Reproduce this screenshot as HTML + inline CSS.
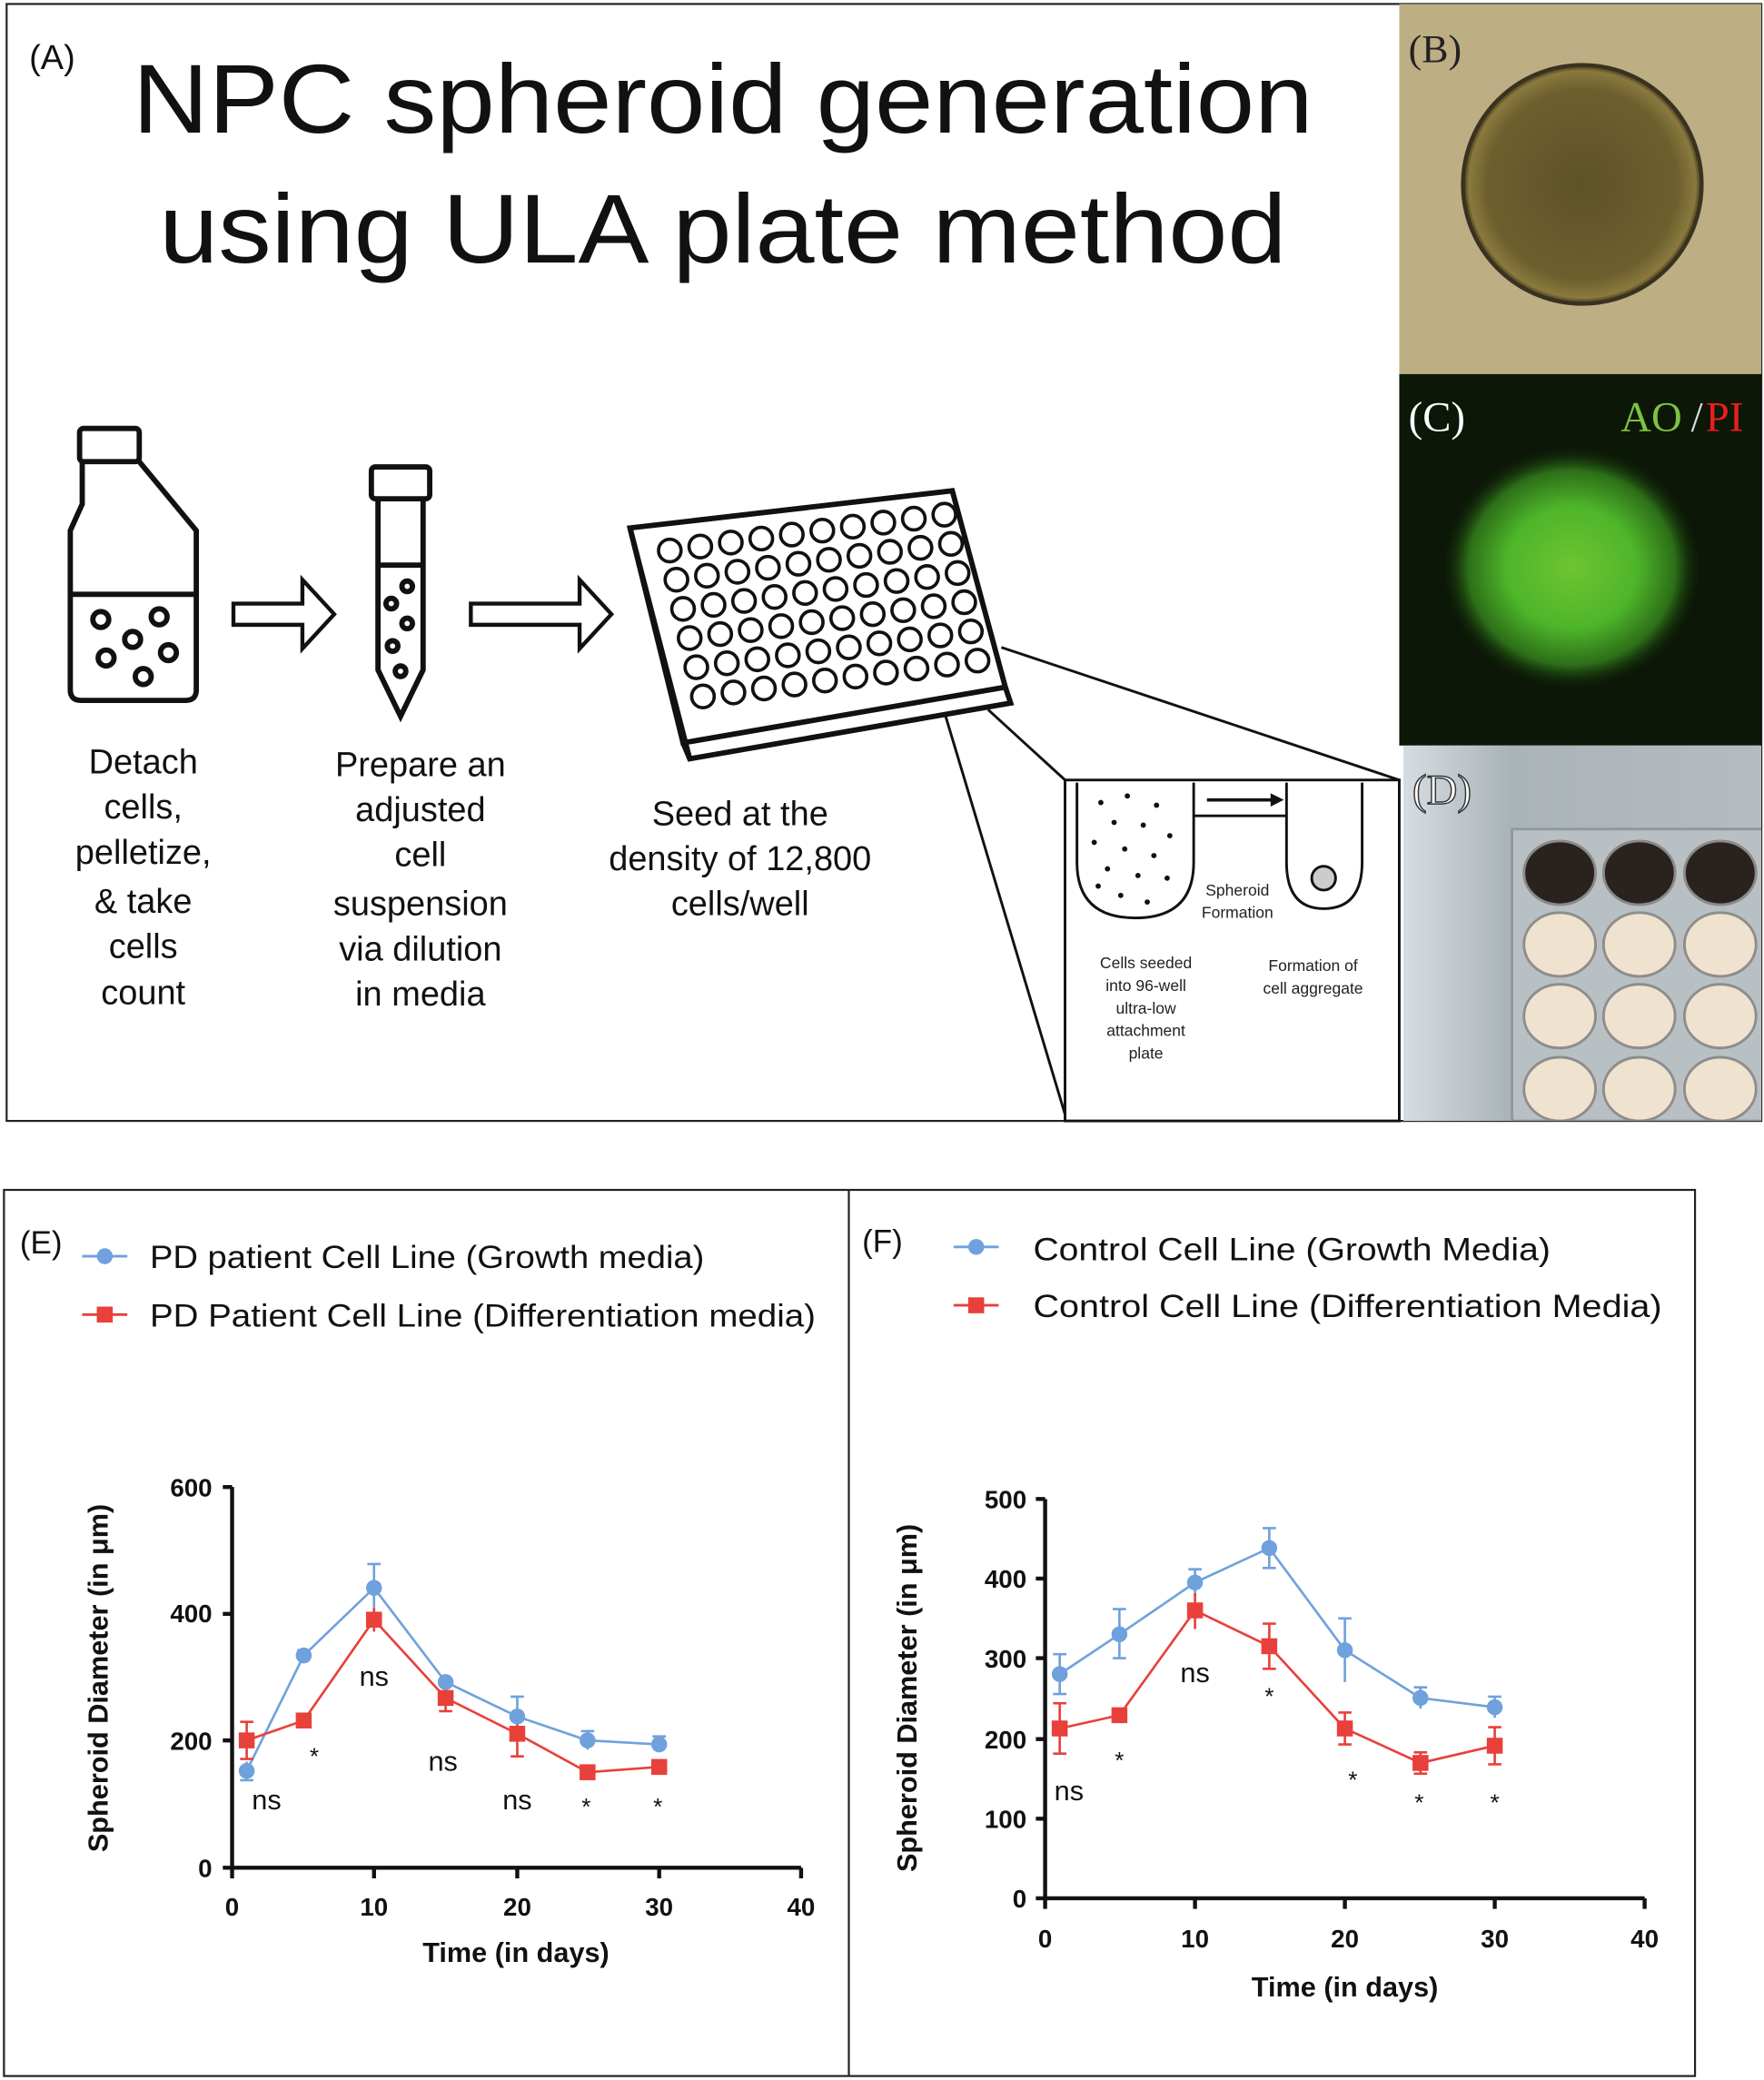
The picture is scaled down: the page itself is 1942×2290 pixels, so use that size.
<!DOCTYPE html>
<html><head><meta charset="utf-8"><style>html,body{margin:0;padding:0;background:#fff}svg{display:block}</style></head>
<body>
<svg width="1942" height="2290" viewBox="0 0 1330 1568" preserveAspectRatio="none" xmlns="http://www.w3.org/2000/svg" font-family="Liberation Sans, sans-serif">
<defs>
<radialGradient id="gB" cx="0.5" cy="0.5" r="0.5"><stop offset="0" stop-color="#5f5228"/><stop offset="0.8" stop-color="#6e5f2e"/><stop offset="0.95" stop-color="#8a7a3e"/><stop offset="1" stop-color="#3a3018"/></radialGradient>
<radialGradient id="gC" cx="0.5" cy="0.5" r="0.5"><stop offset="0" stop-color="#6fc430"/><stop offset="0.5" stop-color="#4eb52a"/><stop offset="0.8" stop-color="#2c6e18"/><stop offset="1" stop-color="#0f2208" stop-opacity="0"/></radialGradient>
<linearGradient id="gD" x1="0" y1="0" x2="1" y2="0"><stop offset="0" stop-color="#d6dde2"/><stop offset="0.3" stop-color="#aab3b8"/><stop offset="1" stop-color="#b5bcc0"/></linearGradient>
<clipPath id="cD"><rect x="1058" y="562" width="270" height="283"/></clipPath>
</defs>
<rect x="5" y="3" width="1323" height="842" fill="#fff" stroke="#222" stroke-width="1.5"/>
<text x="22" y="52" font-size="26" fill="#111">(A)</text>
<text x="100" y="100" font-size="74" fill="#111" textLength="890" lengthAdjust="spacingAndGlyphs">NPC spheroid generation</text>
<text x="120" y="198" font-size="74" fill="#111" textLength="850" lengthAdjust="spacingAndGlyphs">using ULA plate method</text>
<g fill="none" stroke="#111" stroke-width="4">
<rect x="60" y="323" width="45" height="25" rx="3"/>
<path d="M62 348 V380 L53 400 V520 Q53 528 61 528 H140 Q148 528 148 520 V400 L105 348"/>
<line x1="53" y1="448" x2="148" y2="448"/>
<circle cx="76" cy="467" r="6"/><circle cx="120" cy="465" r="6"/><circle cx="100" cy="482" r="6"/><circle cx="80" cy="496" r="6"/><circle cx="127" cy="492" r="6"/><circle cx="108" cy="510" r="6"/>
<path d="M176 455 H228 V437 L252 463 L228 489 V471 H176 Z" stroke-width="3"/>
<path d="M355 455 H437 V437 L461 463 L437 489 V471 H355 Z" stroke-width="3"/>
<rect x="280" y="352" width="44" height="24" rx="3"/>
<path d="M285 376 V505 L302 540 L319 505 V376"/>
<line x1="285" y1="426" x2="319" y2="426"/>
<circle cx="307" cy="442" r="4"/><circle cx="295" cy="455" r="4"/><circle cx="307" cy="470" r="4"/><circle cx="296" cy="487" r="4"/><circle cx="302" cy="506" r="4"/>
<path d="M475 398 L718 370 L758 518 L515 560 Z"/>
<path d="M515 560 L520 572 L762 530 L758 518"/>
<line x1="475" y1="398" x2="520" y2="572"/>
</g>
<g fill="none" stroke="#111" stroke-width="2.5">
<g id="wells">
<circle cx="505" cy="415" r="8.5"/><circle cx="528" cy="412" r="8.5"/><circle cx="551" cy="409" r="8.5"/><circle cx="574" cy="406" r="8.5"/><circle cx="597" cy="403" r="8.5"/><circle cx="620" cy="400" r="8.5"/><circle cx="643" cy="397" r="8.5"/><circle cx="666" cy="394" r="8.5"/><circle cx="689" cy="391" r="8.5"/><circle cx="712" cy="388" r="8.5"/>
</g>
<use href="#wells" transform="translate(5,22)"/><use href="#wells" transform="translate(10,44)"/><use href="#wells" transform="translate(15,66)"/><use href="#wells" transform="translate(20,88)"/><use href="#wells" transform="translate(25,110)"/>
</g>
<g stroke="#111" stroke-width="2" fill="none">
<line x1="755" y1="488" x2="1055" y2="588"/>
<line x1="713" y1="540" x2="803" y2="840"/>
<line x1="745" y1="535" x2="803" y2="588"/>
<rect x="803" y="588" width="252" height="257"/>
</g>
<g stroke="#111" stroke-width="2" fill="none">
<path d="M812 590 V650 Q812 692 856 692 Q900 692 900 650 V590"/>
<path d="M900 615 H970"/>
<path d="M970 590 V650 Q970 685 998 685 Q1027 685 1027 650 V590"/>
<circle cx="998" cy="662" r="9" fill="#ccc"/>
</g>
<path d="M910 603 H960" stroke="#111" stroke-width="2.5"/><path d="M958 598 L968 603 L958 608 Z" fill="#111"/>
<g fill="#111">
<circle cx="830" cy="605" r="2"/><circle cx="850" cy="600" r="2"/><circle cx="872" cy="607" r="2"/><circle cx="840" cy="620" r="2"/><circle cx="862" cy="622" r="2"/><circle cx="882" cy="630" r="2"/><circle cx="825" cy="635" r="2"/><circle cx="848" cy="640" r="2"/><circle cx="870" cy="645" r="2"/><circle cx="835" cy="655" r="2"/><circle cx="858" cy="660" r="2"/><circle cx="880" cy="662" r="2"/><circle cx="845" cy="675" r="2"/><circle cx="865" cy="680" r="2"/><circle cx="828" cy="668" r="2"/>
</g>
<g font-size="12" fill="#222" text-anchor="middle">
<text x="933" y="675">Spheroid</text><text x="933" y="692">Formation</text>
<text x="864" y="730">Cells seeded</text><text x="864" y="747">into 96-well</text><text x="864" y="764">ultra-low</text><text x="864" y="781">attachment</text><text x="864" y="798">plate</text>
<text x="990" y="732">Formation of</text><text x="990" y="749">cell aggregate</text>
</g>
<g font-size="26" fill="#111" text-anchor="middle">
<text x="108" y="583">Detach</text><text x="108" y="617">cells,</text><text x="108" y="651">pelletize,</text><text x="108" y="688">&amp; take</text><text x="108" y="722">cells</text><text x="108" y="757">count</text>
<text x="317" y="585">Prepare an</text><text x="317" y="619">adjusted</text><text x="317" y="653">cell</text><text x="317" y="690">suspension</text><text x="317" y="724">via dilution</text><text x="317" y="758">in media</text>
<text x="558" y="622">Seed at the</text><text x="558" y="656">density of 12,800</text><text x="558" y="690">cells/well</text>
</g>
<!-- B -->
<rect x="1055" y="3" width="273" height="279" fill="#bdae84"/>
<circle cx="1193" cy="139" r="90" fill="url(#gB)" stroke="#3a3220" stroke-width="3"/>
<text x="1062" y="47" font-size="30" font-family="Liberation Serif, serif" fill="#222">(B)</text>
<!-- C -->
<rect x="1055" y="282" width="273" height="280" fill="#0c1707"/>
<ellipse cx="1185" cy="428" rx="98" ry="92" fill="url(#gC)"/>
<text x="1062" y="325" font-size="32" font-family="Liberation Serif, serif" fill="#fff">(C)</text>
<text x="1222" y="325" font-size="32" font-family="Liberation Serif, serif" fill="#7ec242">AO</text><text x="1275" y="325" font-size="32" font-family="Liberation Serif, serif" fill="#ddd">/</text><text x="1286" y="325" font-size="32" font-family="Liberation Serif, serif" fill="#e8201c">PI</text>
<!-- D -->
<g clip-path="url(#cD)">
<rect x="1058" y="562" width="270" height="283" fill="url(#gD)"/>
<rect x="1140" y="625" width="190" height="220" fill="#b9c0c4" stroke="#8f989d" stroke-width="2"/>
<g fill="#2a221e" stroke="#8a8a8a" stroke-width="2">
<ellipse cx="1176" cy="658" rx="27" ry="24"/><ellipse cx="1236" cy="658" rx="27" ry="24"/><ellipse cx="1297" cy="658" rx="27" ry="24"/>
</g>
<g fill="#efe2cf" stroke="#8d8d8d" stroke-width="2">
<ellipse cx="1176" cy="712" rx="27" ry="24"/><ellipse cx="1236" cy="712" rx="27" ry="24"/><ellipse cx="1297" cy="712" rx="27" ry="24"/>
<ellipse cx="1176" cy="766" rx="27" ry="24"/><ellipse cx="1236" cy="766" rx="27" ry="24"/><ellipse cx="1297" cy="766" rx="27" ry="24"/>
<ellipse cx="1176" cy="821" rx="27" ry="24"/><ellipse cx="1236" cy="821" rx="27" ry="24"/><ellipse cx="1297" cy="821" rx="27" ry="24"/>
</g>
</g>
<text x="1065" y="606" font-size="32" font-family="Liberation Serif, serif" fill="#fff" stroke="#333" stroke-width="1">(D)</text>

<rect x="3" y="897" width="1275" height="668" fill="none" stroke="#222" stroke-width="1.5"/>
<line x1="640" y1="897" x2="640" y2="1565" stroke="#222" stroke-width="1.5"/>

<text x="15" y="945" font-size="24" fill="#111">(E)</text>
<line x1="62" y1="947" x2="96" y2="947" stroke="#6fa1dd" stroke-width="2"/><circle cx="79" cy="947" r="6" fill="#6fa1dd"/>
<text x="113" y="956" font-size="24" fill="#111" textLength="418" lengthAdjust="spacingAndGlyphs">PD patient Cell Line (Growth media)</text>
<line x1="62" y1="991" x2="96" y2="991" stroke="#e8403a" stroke-width="2"/><rect x="73" y="985" width="12" height="12" fill="#e8403a"/>
<text x="113" y="1000" font-size="24" fill="#111" textLength="502" lengthAdjust="spacingAndGlyphs">PD Patient Cell Line (Differentiation media)</text>
<g stroke="#111" stroke-width="3" fill="none">
<path d="M175 1121 V1408 H604"/>
<path d="M168 1121 H175 M168 1216.6 H175 M168 1312 H175 M168 1408 H175"/>
<path d="M175 1408 V1416 M282 1408 V1416 M390 1408 V1416 M497 1408 V1416 M604 1408 V1416"/>
</g>
<g font-size="19" font-weight="bold" fill="#111" text-anchor="end">
<text x="160" y="1128">600</text><text x="160" y="1223">400</text><text x="160" y="1319">200</text><text x="160" y="1415">0</text>
</g>
<g font-size="19" font-weight="bold" fill="#111" text-anchor="middle">
<text x="175" y="1444">0</text><text x="282" y="1444">10</text><text x="390" y="1444">20</text><text x="497" y="1444">30</text><text x="604" y="1444">40</text>
<text x="389" y="1479" font-size="21">Time (in days)</text>
</g>
<text transform="translate(81,1265) rotate(-90)" font-size="21" font-weight="bold" fill="#111" text-anchor="middle">Spheroid Diameter (in μm)</text>
<g stroke="#6fa1dd" stroke-width="1.8" fill="none">
<polyline points="186,1335 229,1248 282,1197 336,1268 390,1294 443,1312 497,1315"/>
<path d="M186 1328 V1342 M181 1342 H191 M229 1244 V1252 M224 1244 H234 M282 1179 V1215 M277 1179 H287 M336 1265 V1271 M390 1279 V1309 M385 1279 H395 M443 1305 V1319 M438 1305 H448 M497 1309 V1321 M492 1309 H502"/>
</g>
<g stroke="#e8403a" stroke-width="1.8" fill="none">
<polyline points="186,1312 229,1297 282,1221 336,1280 390,1307 443,1336 497,1332"/>
<path d="M186 1298 V1326 M181 1298 H191 M181 1326 H191 M282 1212 V1230 M336 1271 V1290 M331 1290 H341 M390 1293 V1324 M385 1324 H395 M443 1333 V1340 M497 1327 V1338"/>
</g>
<g fill="#6fa1dd">
<circle cx="186" cy="1335" r="6"/><circle cx="229" cy="1248" r="6"/><circle cx="282" cy="1197" r="6"/><circle cx="336" cy="1268" r="6"/><circle cx="390" cy="1294" r="6"/><circle cx="443" cy="1312" r="6"/><circle cx="497" cy="1315" r="6"/>
</g>
<g fill="#e8403a">
<rect x="180" y="1306" width="12" height="12"/><rect x="223" y="1291" width="12" height="12"/><rect x="276" y="1215" width="12" height="12"/><rect x="330" y="1274" width="12" height="12"/><rect x="384" y="1301" width="12" height="12"/><rect x="437" y="1330" width="12" height="12"/><rect x="491" y="1326" width="12" height="12"/>
</g>
<g font-size="21" fill="#111" text-anchor="middle">
<text x="201" y="1364">ns</text><text x="282" y="1271">ns</text><text x="334" y="1335">ns</text><text x="390" y="1364">ns</text>
<text x="237" y="1330" font-size="18">*</text><text x="442" y="1368" font-size="18">*</text><text x="496" y="1368" font-size="18">*</text>
</g>

<text x="650" y="944" font-size="24" fill="#111">(F)</text>
<line x1="719" y1="940" x2="753" y2="940" stroke="#6fa1dd" stroke-width="2"/><circle cx="736" cy="940" r="6" fill="#6fa1dd"/>
<text x="779" y="950" font-size="24" fill="#111" textLength="390" lengthAdjust="spacingAndGlyphs">Control Cell Line (Growth Media)</text>
<line x1="719" y1="984" x2="753" y2="984" stroke="#e8403a" stroke-width="2"/><rect x="730" y="978" width="12" height="12" fill="#e8403a"/>
<text x="779" y="993" font-size="24" fill="#111" textLength="474" lengthAdjust="spacingAndGlyphs">Control Cell Line (Differentiation Media)</text>
<g stroke="#111" stroke-width="3" fill="none">
<path d="M788 1130 V1431 H1240"/>
<path d="M781 1130 H788 M781 1190 H788 M781 1250 H788 M781 1311 H788 M781 1371 H788 M781 1431 H788"/>
<path d="M788 1431 V1439 M901 1431 V1439 M1014 1431 V1439 M1127 1431 V1439 M1240 1431 V1439"/>
</g>
<g font-size="19" font-weight="bold" fill="#111" text-anchor="end">
<text x="774" y="1137">500</text><text x="774" y="1197">400</text><text x="774" y="1257">300</text><text x="774" y="1318">200</text><text x="774" y="1378">100</text><text x="774" y="1438">0</text>
</g>
<g font-size="19" font-weight="bold" fill="#111" text-anchor="middle">
<text x="788" y="1468">0</text><text x="901" y="1468">10</text><text x="1014" y="1468">20</text><text x="1127" y="1468">30</text><text x="1240" y="1468">40</text>
<text x="1014" y="1505" font-size="21">Time (in days)</text>
</g>
<text transform="translate(691,1280) rotate(-90)" font-size="21" font-weight="bold" fill="#111" text-anchor="middle">Spheroid Diameter (in μm)</text>
<g stroke="#6fa1dd" stroke-width="1.8" fill="none">
<polyline points="799,1262 844,1232 901,1193 957,1167 1014,1244 1071,1280 1127,1287"/>
<path d="M799 1247 V1277 M794 1247 H804 M794 1277 H804 M844 1213 V1250 M839 1213 H849 M839 1250 H849 M901 1183 V1203 M896 1183 H906 M957 1152 V1182 M952 1152 H962 M952 1182 H962 M1014 1220 V1268 M1009 1220 H1019 M1071 1272 V1288 M1066 1272 H1076 M1127 1279 V1295 M1122 1279 H1132"/>
</g>
<g stroke="#e8403a" stroke-width="1.8" fill="none">
<polyline points="799,1303 844,1293 901,1214 957,1241 1014,1303 1071,1329 1127,1316"/>
<path d="M799 1284 V1322 M794 1284 H804 M794 1322 H804 M901 1201 V1228 M957 1224 V1258 M952 1224 H962 M952 1258 H962 M1014 1291 V1315 M1009 1291 H1019 M1009 1315 H1019 M1071 1321 V1337 M1066 1321 H1076 M1066 1337 H1076 M1127 1302 V1330 M1122 1302 H1132 M1122 1330 H1132"/>
</g>
<g fill="#6fa1dd">
<circle cx="799" cy="1262" r="6"/><circle cx="844" cy="1232" r="6"/><circle cx="901" cy="1193" r="6"/><circle cx="957" cy="1167" r="6"/><circle cx="1014" cy="1244" r="6"/><circle cx="1071" cy="1280" r="6"/><circle cx="1127" cy="1287" r="6"/>
</g>
<g fill="#e8403a">
<rect x="793" y="1297" width="12" height="12"/><rect x="838" y="1287" width="12" height="12"/><rect x="895" y="1208" width="12" height="12"/><rect x="951" y="1235" width="12" height="12"/><rect x="1008" y="1297" width="12" height="12"/><rect x="1065" y="1323" width="12" height="12"/><rect x="1121" y="1310" width="12" height="12"/>
</g>
<g font-size="21" fill="#111" text-anchor="middle">
<text x="806" y="1357">ns</text><text x="901" y="1268">ns</text>
<text x="844" y="1333" font-size="18">*</text><text x="957" y="1285" font-size="18">*</text><text x="1020" y="1348" font-size="18">*</text><text x="1070" y="1365" font-size="18">*</text><text x="1127" y="1365" font-size="18">*</text>
</g>
</svg>
</body></html>
